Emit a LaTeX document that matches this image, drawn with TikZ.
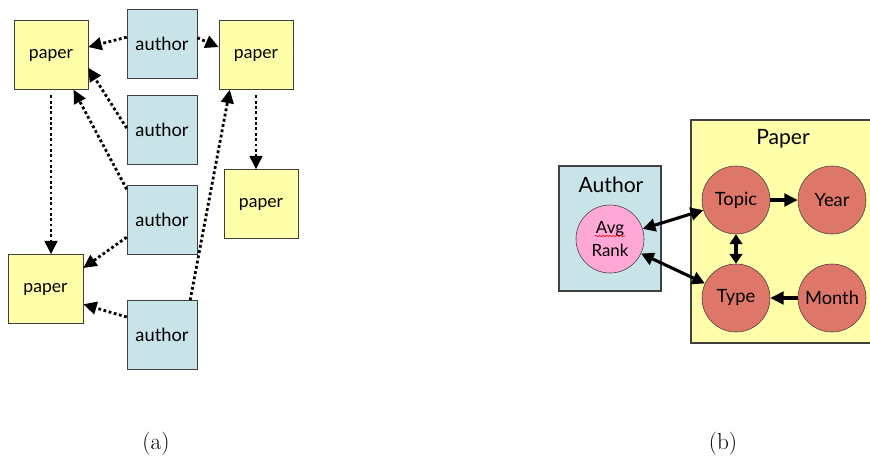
\documentclass[tikz,border=0pt]{standalone}
\usepackage{fontspec}
\setsansfont{Lato}
\usetikzlibrary{arrows.meta}
\usetikzlibrary{snakes}

\definecolor{paperyellow}{HTML}{FFFFAA}
\definecolor{authorblue}{HTML}{C8E4E8}
\definecolor{rankpink}{HTML}{FFA8D8}
\definecolor{attrred}{HTML}{DE766A}

\begin{document}
\begin{tikzpicture}
		[x=0.025cm,y=-0.025cm,
		paper/.style={rectangle,draw=black!75,fill=paperyellow,minimum width=1.85cm,minimum height=1.725cm,font=\sffamily\fontsize{12.5}{14}\selectfont},
		author/.style={paper,fill=authorblue,minimum width=1.75cm,font=\sffamily\fontsize{13}{14}\selectfont},
		frame/.style={rectangle,draw=black!75,thick},
		attr/.style={circle,draw=black!75,fill=attrred,minimum size=1.7cm,inner sep=0pt,font=\sffamily\fontsize{13}{14}\selectfont},
		tip/.style={-{Triangle[length=9.5pt,width=9pt]}},
		link/.style={line width=2pt,dash pattern=on 2pt off 1.8pt,tip},
		dep/.style={line width=2.2pt,tip},
		both/.style={dep,{Triangle[length=9pt,width=9pt]}-{Triangle[length=9pt,width=9pt]}},]
		\useasboundingbox (0,0) rectangle (870,456);
		
		% (a) authors and papers
		\node[paper] (p1) at (51,55){paper};
		\node[paper] (p2) at (256,55){paper};
		\node[paper] (p3) at (261,204){paper};
		\node[paper,minimum width=1.875cm] (p4) at (45.5,289){paper};
		\node[author] (a1) at (162,44){author};
		\node[author] (a2) at (162,130){author};
		\node[author] (a3) at (162,220){author};
		\node[author] (a4) at (162,335){author};
		
		\draw[link] (a1.169) -- (p1.12);
		\draw[link] (a1.10) -- (p2.168);
		\draw[link] (a2.177) -- (p1.-19);
		\draw[link] (a3.139) -- (p1.-57);
		\draw[link] (a3.206) -- (p4.29);
		\draw[link] (a4.153) -- (p4.-22);
		\draw[link] (a4.51) -- (p2.-127);
		\draw[link,shorten <=4pt] (p1.south) -- (p1.south |- p4.north);
		\draw[link,shorten <=4pt] (p2.south) -- (p2.south |- p3.north);
		
		% (b) class model
		\draw[frame,fill=authorblue] (559,166) rectangle (661,291);
		\draw[frame,fill=paperyellow] (691,120) rectangle (880,343);
		\node[font=\sffamily\fontsize{15}{17}\selectfont] (authortitle) at (611,185){Author};
		\node[font=\sffamily\fontsize{15}{17}\selectfont] (papertitle) at (783,139){Paper};
		
		\node[attr,fill=rankpink,align=center,font=\sffamily\fontsize{12}{16}\selectfont] (avg) at (610,239){Avg\\Rank};
		\node[attr] (topic) at (736,200){Topic};
		\node[attr] (year) at (832,200){Year};
		\node[attr] (type) at (736,298){Type};
		\node[attr] (month) at (832,298){Month};
		\draw[red,decorate,decoration={snake,amplitude=0.5pt,segment length=2.5pt}] (avg.center) ++(-15,-3) -- ++(30,0);
		
		\draw[both] (avg) -- (topic);
		\draw[both] (avg) -- (type);
		\draw[both,{Triangle[length=7pt,width=9pt]}-{Triangle[length=7pt,width=9pt]}] (topic) -- (type);
		\draw[dep] (topic) -- (year);
		\draw[dep] (month) -- (type);
		
		\node[font=\fontsize{16.5}{18}\selectfont] (capa) at (156,444){(a)};
		\node[font=\fontsize{16.5}{18}\selectfont] (capb) at (723,444){(b)};
		
	\end{tikzpicture}
\end{document}
